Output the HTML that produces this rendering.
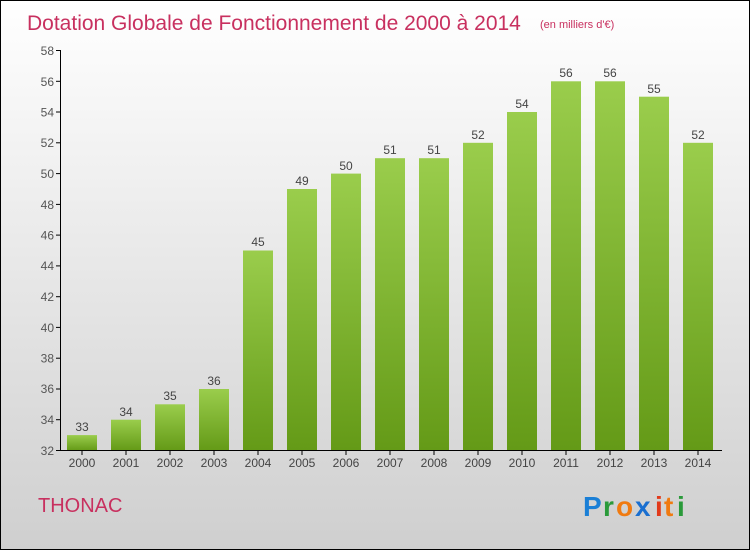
<!DOCTYPE html>
<html><head><style>body{margin:0}</style></head><body>
<svg width="750" height="550" xmlns="http://www.w3.org/2000/svg" font-family="Liberation Sans, sans-serif">
<defs>
<linearGradient id="bg" x1="0" y1="0" x2="0" y2="1"><stop offset="0" stop-color="#ffffff"/><stop offset="1" stop-color="#cfcfcf"/></linearGradient>
<linearGradient id="bar" x1="0" y1="0" x2="0" y2="1"><stop offset="0" stop-color="#9acd4c"/><stop offset="1" stop-color="#649a17"/></linearGradient>
</defs>
<rect x="0.5" y="0.5" width="749" height="549" fill="url(#bg)" stroke="#000"/>
<text x="27" y="30" font-size="21" fill="#c8305f">Dotation Globale de Fonctionnement de 2000 à 2014</text>
<text x="540" y="28" font-size="11" fill="#c8305f">(en milliers d'€)</text>
<g fill="url(#bar)">
<rect x="67" y="435.1" width="30" height="15.4"/>
<rect x="111" y="419.7" width="30" height="30.8"/>
<rect x="155" y="404.3" width="30" height="46.2"/>
<rect x="199" y="389.0" width="30" height="61.5"/>
<rect x="243" y="250.5" width="30" height="200"/>
<rect x="287" y="189.0" width="30" height="261.5"/>
<rect x="331" y="173.6" width="30" height="276.9"/>
<rect x="375" y="158.2" width="30" height="292.3"/>
<rect x="419" y="158.2" width="30" height="292.3"/>
<rect x="463" y="142.8" width="30" height="307.7"/>
<rect x="507" y="112.0" width="30" height="338.5"/>
<rect x="551" y="81.3" width="30" height="369.2"/>
<rect x="595" y="81.3" width="30" height="369.2"/>
<rect x="639" y="96.7" width="30" height="353.8"/>
<rect x="683" y="142.8" width="30" height="307.7"/>
</g>
<g font-size="12" fill="#444" text-anchor="middle">
<text x="82" y="431">33</text><text x="126" y="416">34</text><text x="170" y="400">35</text><text x="214" y="385">36</text>
<text x="258" y="246">45</text><text x="302" y="185">49</text><text x="346" y="170">50</text><text x="390" y="154">51</text>
<text x="434" y="154">51</text><text x="478" y="139">52</text><text x="522" y="108">54</text><text x="566" y="77">56</text>
<text x="610" y="77">56</text><text x="654" y="93">55</text><text x="698" y="139">52</text>
</g>
<g font-size="12" fill="#444" text-anchor="middle">
<text x="82" y="467">2000</text><text x="126" y="467">2001</text><text x="170" y="467">2002</text><text x="214" y="467">2003</text>
<text x="258" y="467">2004</text><text x="302" y="467">2005</text><text x="346" y="467">2006</text><text x="390" y="467">2007</text>
<text x="434" y="467">2008</text><text x="478" y="467">2009</text><text x="522" y="467">2010</text><text x="566" y="467">2011</text>
<text x="610" y="467">2012</text><text x="654" y="467">2013</text><text x="698" y="467">2014</text>
</g>
<g stroke="#000">
<line x1="82" x2="82" y1="450" y2="455"/><line x1="126" x2="126" y1="450" y2="455"/><line x1="170" x2="170" y1="450" y2="455"/>
<line x1="214" x2="214" y1="450" y2="455"/><line x1="258" x2="258" y1="450" y2="455"/><line x1="302" x2="302" y1="450" y2="455"/>
<line x1="346" x2="346" y1="450" y2="455"/><line x1="390" x2="390" y1="450" y2="455"/><line x1="434" x2="434" y1="450" y2="455"/>
<line x1="478" x2="478" y1="450" y2="455"/><line x1="522" x2="522" y1="450" y2="455"/><line x1="566" x2="566" y1="450" y2="455"/>
<line x1="610" x2="610" y1="450" y2="455"/><line x1="654" x2="654" y1="450" y2="455"/><line x1="698" x2="698" y1="450" y2="455"/>
<line x1="56" x2="61" y1="450.5" y2="450.5"/><line x1="56" x2="61" y1="419.7" y2="419.7"/><line x1="56" x2="61" y1="389" y2="389"/>
<line x1="56" x2="61" y1="358.2" y2="358.2"/><line x1="56" x2="61" y1="327.4" y2="327.4"/><line x1="56" x2="61" y1="296.7" y2="296.7"/>
<line x1="56" x2="61" y1="265.9" y2="265.9"/><line x1="56" x2="61" y1="235.1" y2="235.1"/><line x1="56" x2="61" y1="204.4" y2="204.4"/>
<line x1="56" x2="61" y1="173.6" y2="173.6"/><line x1="56" x2="61" y1="142.8" y2="142.8"/><line x1="56" x2="61" y1="112" y2="112"/>
<line x1="56" x2="61" y1="81.3" y2="81.3"/><line x1="56" x2="61" y1="50.5" y2="50.5"/>
<line x1="60.5" y1="50" x2="60.5" y2="451"/>
<line x1="60" y1="450.5" x2="722" y2="450.5"/>
</g>
<g font-size="12" fill="#555" text-anchor="end">
<text x="54" y="455">32</text><text x="54" y="424">34</text><text x="54" y="393">36</text><text x="54" y="362.5">38</text>
<text x="54" y="332">40</text><text x="54" y="301">42</text><text x="54" y="270">44</text><text x="54" y="239.5">46</text>
<text x="54" y="209">48</text><text x="54" y="178">50</text><text x="54" y="147">52</text><text x="54" y="116.5">54</text>
<text x="54" y="86">56</text><text x="54" y="55">58</text>
</g>
<text x="38" y="512" font-size="20" fill="#c8305f">THONAC</text>
<g font-size="28" font-weight="bold">
<text x="583" y="516" fill="#1a7fd6">P</text>
<text x="603" y="516" fill="#2a9a3a">r</text>
<text x="616" y="516" fill="#f07a10">o</text>
<text x="635" y="516" fill="#1a6fd0">x</text>
<text x="655" y="516" fill="#e23a1a">i</text>
<text x="664" y="516" fill="#f07a10">t</text>
<text x="677" y="516" fill="#2a9a3a">i</text>
</g>
</svg>
</body></html>
